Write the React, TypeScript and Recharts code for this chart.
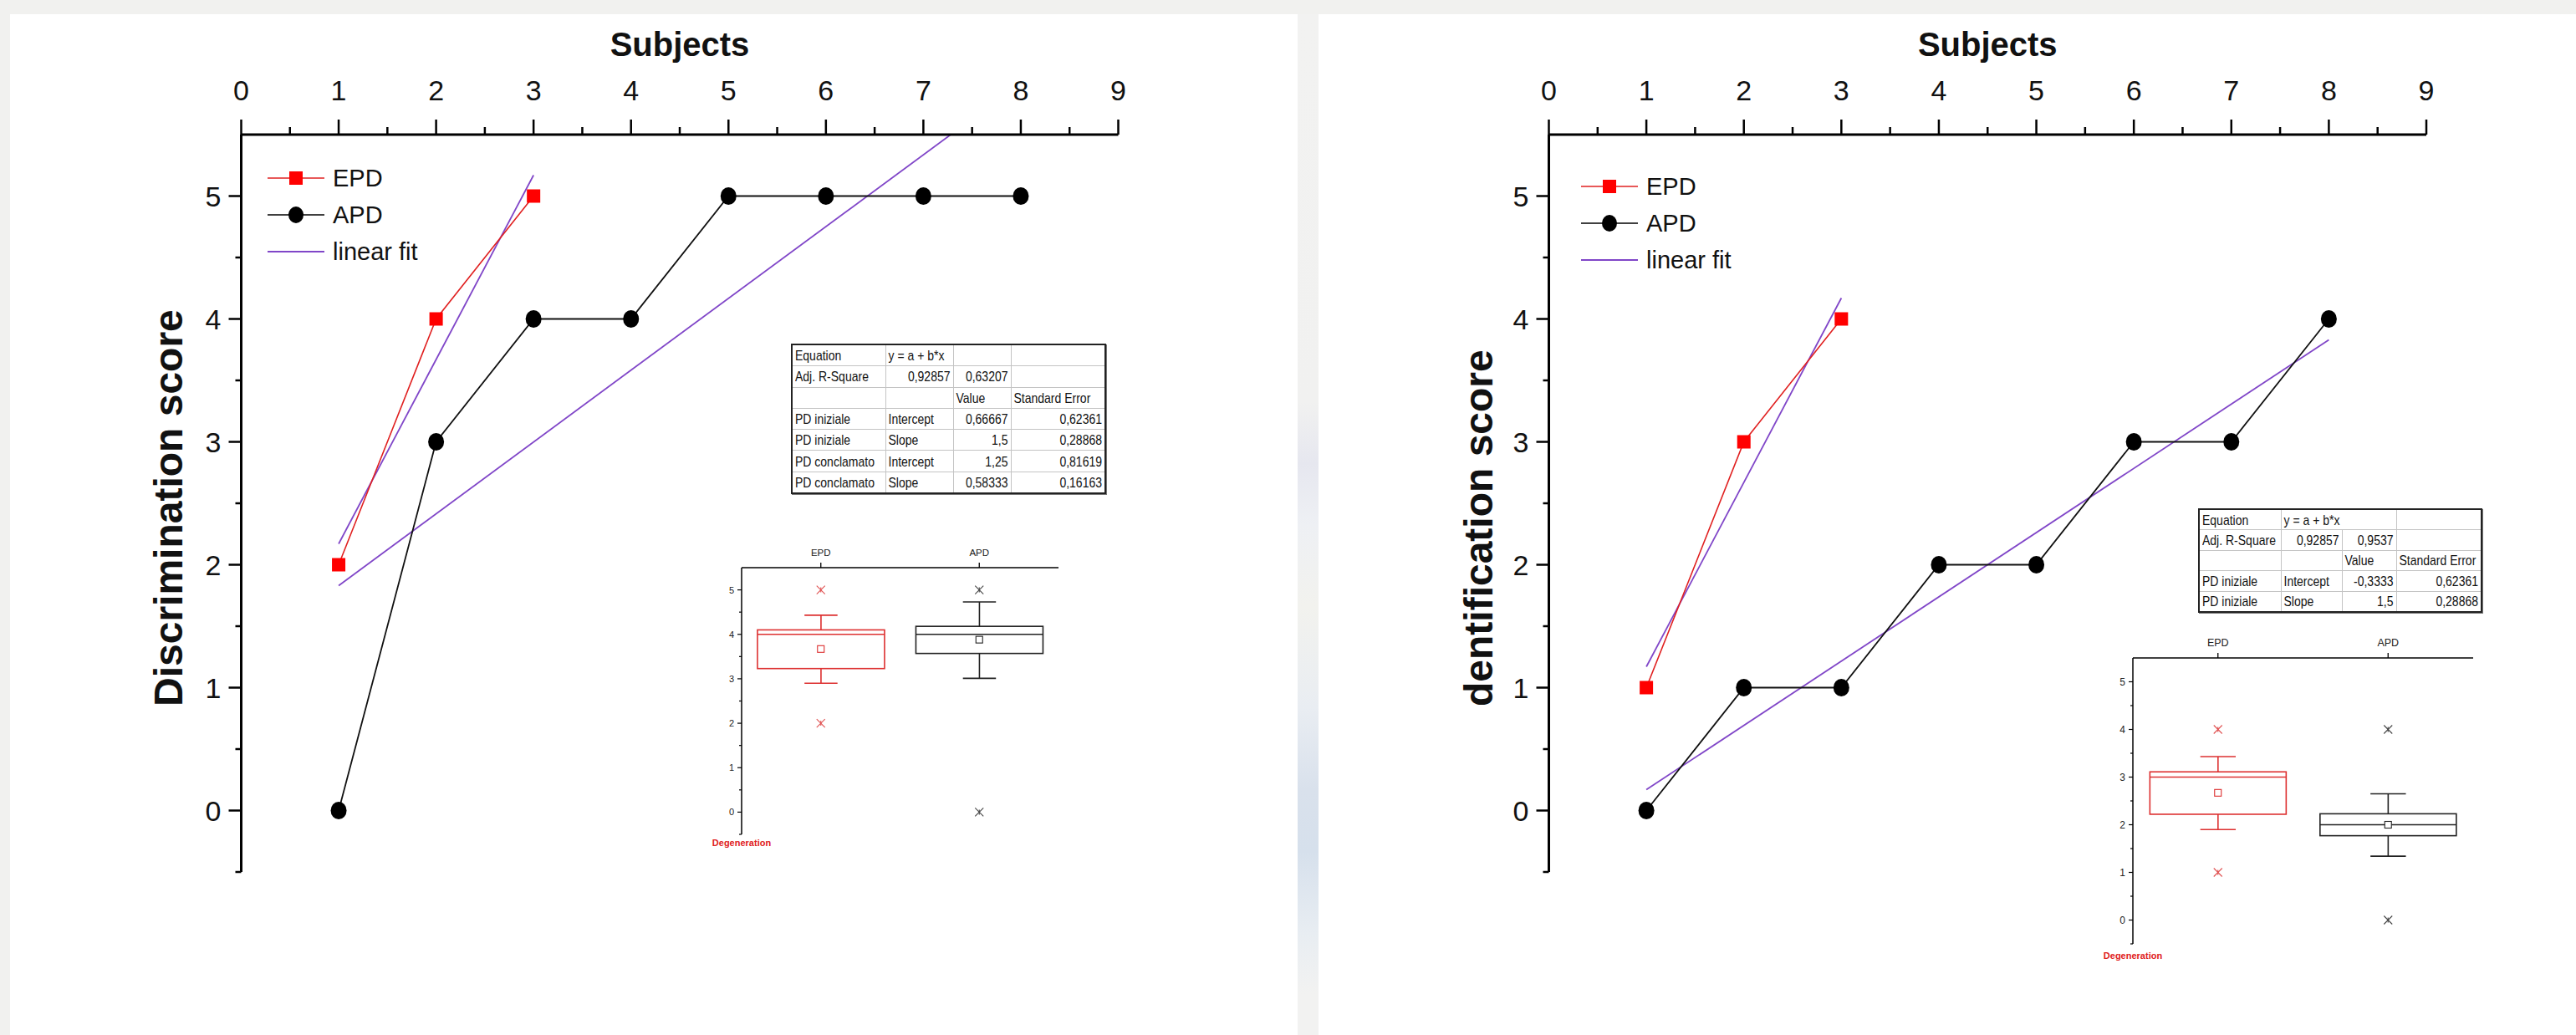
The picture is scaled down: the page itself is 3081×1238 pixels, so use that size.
import React from "react";
import { ComposedChart, Line, Bar, Scatter, XAxis, YAxis, Legend } from "recharts";

const FONT = "'Liberation Sans', Arial, sans-serif";
const PURPLE = "#8046c8";
const RED = "#ff0000";
const BOX_RED = "#dd3030";
const INK = "#111";

// ---- main plots: Subjects vs score ----
const subjectTicks = [0, 0.5, 1, 1.5, 2, 2.5, 3, 3.5, 4, 4.5, 5, 5.5, 6, 6.5, 7, 7.5, 8, 8.5, 9];
const scoreTicks = [-0.5, 0, 0.5, 1, 1.5, 2, 2.5, 3, 3.5, 4, 4.5, 5];

const epdSubjects = [1, 2, 3];
const apdSubjects = [1, 2, 3, 4, 5, 6, 7, 8];
const epdFitSubjects = [1, 3];
const apdFitSubjects = [1, 8];

const discriminationEPD = [2, 4, 5];
const discriminationAPD = [0, 3, 4, 4, 5, 5, 5, 5];
const discriminationFitEPD = [2.17, 5.17];
const discriminationFitAPD = [1.83, 5.92];

const identificationEPD = [1, 3, 4];
const identificationAPD = [0, 1, 1, 2, 2, 3, 3, 4];
const identificationFitEPD = [1.17, 4.17];
const identificationFitAPD = [0.17, 3.83];

const legendNames = ["EPD", "APD", "linear fit"];

// ---- inset box plots ----
const boxGroups = ["EPD", "APD"];
const boxTicks = [-0.5, 0, 0.5, 1, 1.5, 2, 2.5, 3, 3.5, 4, 4.5, 5];

const discBoxLow = [2.9, 3.01];
const discBoxQ1 = [3.23, 3.57];
const discBoxMedian = [4, 4];
const discBoxQ3 = [4.1, 4.18];
const discBoxHigh = [4.43, 4.73];
const discBoxMean = [3.67, 3.88];
const discBoxMin = [2, 0];
const discBoxMax = [5, 5];

const idBoxLow = [1.9, 1.34];
const idBoxQ1 = [2.22, 1.77];
const idBoxMedian = [3, 2];
const idBoxQ3 = [3.11, 2.23];
const idBoxHigh = [3.43, 2.65];
const idBoxMean = [2.67, 2];
const idBoxMin = [1, 0];
const idBoxMax = [4, 4];

// ---- fit tables ----
const discTableRows = [
  ["Equation", "y = a + b*x", "", ""],
  ["Adj. R-Square", "0,92857", "0,63207", ""],
  ["", "", "Value", "Standard Error"],
  ["PD iniziale", "Intercept", "0,66667", "0,62361"],
  ["PD iniziale", "Slope", "1,5", "0,28868"],
  ["PD conclamato", "Intercept", "1,25", "0,81619"],
  ["PD conclamato", "Slope", "0,58333", "0,16163"],
];
const idTableRows = [
  ["Equation", "y = a + b*x", null, ""],
  ["Adj. R-Square", "0,92857", "0,9537", ""],
  ["", "", "Value", "Standard Error"],
  ["PD iniziale", "Intercept", "-0,3333", "0,62361"],
  ["PD iniziale", "Slope", "1,5", "0,28868"],
];

const toPoints = (xs: number[], ys: number[]) => xs.map((x, i) => ({ x, y: ys[i] }));

const boxRows = (
  low: number[], q1: number[], med: number[], q3: number[], high: number[],
  mean: number[], min: number[], max: number[]
) =>
  boxGroups.map((group, i) => ({
    group,
    range: [low[i], high[i]],
    q1: q1[i],
    median: med[i],
    q3: q3[i],
    mean: mean[i],
    min: min[i],
    max: max[i],
  }));

const boxColor = (group: string) => (group === "EPD" ? BOX_RED : "#222");

// ---- main plot pieces ----
const TopTick = (props: any) => {
  const { x, y, payload } = props;
  const major = Number.isInteger(payload.value);
  return (
    <g>
      <line x1={x} x2={x} y1={y} y2={y - (major ? 18 : 9)} stroke="#000" strokeWidth={2.5} />
      {major && (
        <text x={x} y={y - 41} textAnchor="middle" fontSize={34} fontFamily={FONT} fill={INK}>
          {payload.value}
        </text>
      )}
    </g>
  );
};

const LeftTick = (props: any) => {
  const { x, y, payload } = props;
  const major = Number.isInteger(payload.value);
  return (
    <g>
      <line x1={x} x2={x - (major ? 15 : 7)} y1={y} y2={y} stroke="#000" strokeWidth={2.5} />
      {major && (
        <text x={x - 24} y={y + 12} textAnchor="end" fontSize={34} fontFamily={FONT} fill={INK}>
          {payload.value}
        </text>
      )}
    </g>
  );
};

const SquareDot = (props: any) => {
  const { cx, cy } = props;
  if (cx == null || cy == null) return null;
  return <rect x={cx - 8} y={cy - 8} width={16} height={16} fill={RED} />;
};

const RoundDot = (props: any) => {
  const { cx, cy } = props;
  if (cx == null || cy == null) return null;
  return <ellipse cx={cx} cy={cy} rx={9.5} ry={10.5} fill="#000" />;
};

const MainLegend = () => (
  <div style={{ fontFamily: FONT, fontSize: 29, color: INK }}>
    {legendNames.map((name, i) => (
      <div key={name} style={{ display: "flex", alignItems: "center", height: 44 }}>
        <svg width={78} height={44}>
          <line
            x1={0}
            x2={68}
            y1={22}
            y2={22}
            stroke={i === 0 ? "#e02020" : i === 1 ? "#000" : PURPLE}
            strokeWidth={i === 2 ? 2 : 1.6}
          />
          {i === 0 && <rect x={26} y={14} width={16} height={16} fill={RED} />}
          {i === 1 && <ellipse cx={34} cy={22} rx={9} ry={10} fill="#000" />}
        </svg>
        <span style={{ lineHeight: "44px" }}>{name}</span>
      </div>
    ))}
  </div>
);

function MainPanel(props: {
  left: number;
  width: number;
  plotLeft: number;
  plotRight: number;
  yLabel: string;
  yLabelDx: number;
  legendX: number;
  legendY: number;
  epd: number[];
  apd: number[];
  fitEpd: number[];
  fitApd: number[];
}) {
  const { left, width, plotLeft, plotRight, yLabel, yLabelDx, legendX, legendY } = props;
  // axes are 1px thick, so the margins stop one pixel short of the plot box
  return (
    <div style={{ position: "absolute", left, top: 0 }}>
      <ComposedChart
        width={width}
        height={1238}
        margin={{ top: 160, left: plotLeft - left - 1, right: left + width - plotRight, bottom: 195 }}
      >
        <XAxis
          type="number"
          dataKey="x"
          orientation="top"
          domain={[0, 9]}
          ticks={subjectTicks}
          interval={0}
          height={1}
          tickSize={0}
          tickMargin={0}
          tickLine={false}
          allowDataOverflow
          axisLine={{ stroke: "#000", strokeWidth: 3 }}
          tick={(p: any) => <TopTick {...p} />}
          label={(p: any) => {
            const vb = p.viewBox;
            return (
              <text
                x={vb.x + vb.width / 2}
                y={vb.y + vb.height - 94}
                textAnchor="middle"
                fontSize={40}
                fontWeight="bold"
                fontFamily={FONT}
                fill={INK}
              >
                Subjects
              </text>
            );
          }}
        />
        <YAxis
          type="number"
          domain={[-0.5, 5.5]}
          ticks={scoreTicks}
          interval={0}
          width={1}
          tickSize={0}
          tickMargin={0}
          tickLine={false}
          allowDataOverflow
          axisLine={{ stroke: "#000", strokeWidth: 3 }}
          tick={(p: any) => <LeftTick {...p} />}
          label={(p: any) => {
            const vb = p.viewBox;
            const lx = vb.x + vb.width - yLabelDx;
            return (
              <text
                x={lx}
                y={845}
                transform={`rotate(-90 ${lx} 845)`}
                textAnchor="start"
                fontSize={48}
                fontWeight="bold"
                fontFamily={FONT}
                fill={INK}
              >
                {yLabel}
              </text>
            );
          }}
        />
        <Legend
          layout="vertical"
          align="center"
          verticalAlign="middle"
          content={() => <MainLegend />}
          wrapperStyle={{ left: legendX - left, top: legendY - 22, width: 260, height: 132 }}
        />
        <Line
          data={toPoints(epdFitSubjects, props.fitEpd)}
          dataKey="y"
          stroke={PURPLE}
          strokeWidth={1.8}
          dot={false}
          isAnimationActive={false}
        />
        <Line
          data={toPoints(apdFitSubjects, props.fitApd)}
          dataKey="y"
          stroke={PURPLE}
          strokeWidth={1.8}
          dot={false}
          isAnimationActive={false}
        />
        <Line
          data={toPoints(epdSubjects, props.epd)}
          dataKey="y"
          stroke="#e02020"
          strokeWidth={1.6}
          dot={(p: any) => <SquareDot key={`s${p.index}`} {...p} />}
          isAnimationActive={false}
        />
        <Line
          data={toPoints(apdSubjects, props.apd)}
          dataKey="y"
          stroke="#111"
          strokeWidth={1.8}
          dot={(p: any) => <RoundDot key={`c${p.index}`} {...p} />}
          isAnimationActive={false}
        />
      </ComposedChart>
    </div>
  );
}

// ---- box plot pieces ----
const BoxShape = (props: any) => {
  const { x, y, width, height, payload } = props;
  if (!payload || width == null) return null;
  const [lo, hi] = payload.range;
  const top = Math.min(y, y + height);
  const px = Math.abs(height) / (hi - lo);
  const yOf = (v: number) => top + (hi - v) * px;
  const cx = x + width / 2;
  const cap = width * 0.13;
  const color = boxColor(payload.group);
  return (
    <g stroke={color} strokeWidth={1.6} fill="none">
      <line x1={cx} x2={cx} y1={yOf(hi)} y2={yOf(payload.q3)} />
      <line x1={cx - cap} x2={cx + cap} y1={yOf(hi)} y2={yOf(hi)} />
      <line x1={cx} x2={cx} y1={yOf(payload.q1)} y2={yOf(lo)} />
      <line x1={cx - cap} x2={cx + cap} y1={yOf(lo)} y2={yOf(lo)} />
      <rect x={x} y={yOf(payload.q3)} width={width} height={yOf(payload.q1) - yOf(payload.q3)} />
      <line x1={x} x2={x + width} y1={yOf(payload.median)} y2={yOf(payload.median)} />
    </g>
  );
};

const MeanShape = (props: any) => {
  const { cx, cy, payload } = props;
  return (
    <rect x={cx - 4} y={cy - 4} width={8} height={8} fill="#fff" stroke={boxColor(payload.group)} strokeWidth={1.1} />
  );
};

const CrossShape = (props: any) => {
  const { cx, cy, payload } = props;
  const c = payload.group === "EPD" ? "#e05050" : "#444";
  return (
    <g stroke={c} strokeWidth={1.1}>
      <line x1={cx - 5} x2={cx + 5} y1={cy - 5} y2={cy + 5} />
      <line x1={cx - 5} x2={cx + 5} y1={cy + 5} y2={cy - 5} />
      <line x1={cx} x2={cx} y1={cy - 3} y2={cy + 3} />
    </g>
  );
};

function BoxPanel(props: {
  left: number;
  top: number;
  width: number;
  height: number;
  plot: [number, number, number, number];
  rows: any[];
  yLabel: string;
  labelFont: number;
  labelDx: number;
  labelCy: number;
  tickFont: number;
  degDy: number;
}) {
  const { left, top, width, height, plot, rows, yLabel, labelFont, labelDx, labelCy, tickFont, degDy } = props;
  const [pl, pt, pr, pb] = plot;
  return (
    <div style={{ position: "absolute", left, top }}>
      <ComposedChart
        width={width}
        height={height}
        data={rows}
        barCategoryGap="10%"
        margin={{ top: pt - top - 1, left: pl - left - 1, right: left + width - pr, bottom: top + height - pb }}
      >
        <XAxis
          type="category"
          dataKey="group"
          orientation="top"
          height={1}
          tickSize={0}
          tickMargin={0}
          tickLine={false}
          interval={0}
          axisLine={{ stroke: "#000", strokeWidth: 1.5 }}
          tick={(p: any) => (
            <g>
              <line x1={p.x} x2={p.x} y1={p.y} y2={p.y - 6} stroke="#000" strokeWidth={1.3} />
              <text x={p.x} y={p.y - 14} textAnchor="middle" fontSize={tickFont + 0.5} fontFamily={FONT} fill="#222">
                {p.payload.value}
              </text>
            </g>
          )}
        />
        <YAxis
          type="number"
          domain={[-0.5, 5.5]}
          ticks={boxTicks}
          interval={0}
          width={1}
          tickSize={0}
          tickMargin={0}
          tickLine={false}
          axisLine={{ stroke: "#000", strokeWidth: 1.5 }}
          tick={(p: any) => {
            const major = Number.isInteger(p.payload.value);
            return (
              <g>
                <line x1={p.x} x2={p.x - (major ? 5 : 3)} y1={p.y} y2={p.y} stroke="#000" strokeWidth={1.2} />
                {major && (
                  <text x={p.x - 9} y={p.y + tickFont * 0.36} textAnchor="end" fontSize={tickFont} fontFamily={FONT} fill="#222">
                    {p.payload.value}
                  </text>
                )}
              </g>
            );
          }}
          label={(p: any) => {
            const vb = p.viewBox;
            const ax = vb.x + vb.width;
            const lx = ax - labelDx;
            return (
              <g>
                <text
                  x={lx}
                  y={labelCy}
                  transform={`rotate(-90 ${lx} ${labelCy})`}
                  textAnchor="middle"
                  fontSize={labelFont}
                  fontWeight="bold"
                  fontFamily={FONT}
                  fill="#111"
                >
                  {yLabel}
                </text>
                <text
                  x={ax}
                  y={vb.y + vb.height + degDy}
                  textAnchor="middle"
                  fontSize={11}
                  fontWeight="bold"
                  fontFamily={FONT}
                  fill="#e02020"
                >
                  Degeneration
                </text>
              </g>
            );
          }}
        />
        <Bar dataKey="range" shape={(p: any) => <BoxShape {...p} />} isAnimationActive={false} />
        <Scatter dataKey="mean" shape={(p: any) => <MeanShape {...p} />} isAnimationActive={false} />
        <Scatter dataKey="min" shape={(p: any) => <CrossShape {...p} />} isAnimationActive={false} />
        <Scatter dataKey="max" shape={(p: any) => <CrossShape {...p} />} isAnimationActive={false} />
      </ComposedChart>
    </div>
  );
}

// ---- fit table ----
const isNumeric = (s: string) => /^-?\d/.test(s);

function FitTable(props: { left: number; top: number; cols: number[]; rowHeight: number; rows: (string | null)[][] }) {
  const { left, top, cols, rowHeight, rows } = props;
  return (
    <table
      style={{
        position: "absolute",
        left,
        top,
        borderCollapse: "collapse",
        tableLayout: "fixed",
        width: cols.reduce((a, b) => a + b, 0),
        border: "2px solid #222",
        boxShadow: "1px 1px 0 #777",
        fontFamily: FONT,
        fontSize: 14,
        color: "#111",
        background: "#fff",
      }}
    >
      <colgroup>
        {cols.map((w, i) => (
          <col key={i} style={{ width: w }} />
        ))}
      </colgroup>
      <tbody>
        {rows.map((row, r) => (
          <tr key={r} style={{ height: rowHeight }}>
            {row.map((cell, c) => {
              if (cell === null) return null;
              const span = row[c + 1] === null ? 2 : 1;
              return (
                <td
                  key={c}
                  colSpan={span}
                  style={{
                    border: "1px solid #c4c4c4",
                    padding: "0 3px",
                    height: rowHeight - 1,
                    whiteSpace: "nowrap",
                    overflow: "hidden",
                    textAlign: isNumeric(cell) ? "right" : "left",
                    lineHeight: 1,
                  }}
                >
                  <span style={{ display: "inline-block", transform: "scaleY(1.2)" }}>{cell}</span>
                </td>
              );
            })}
          </tr>
        ))}
      </tbody>
    </table>
  );
}

export default function App() {
  return (
    <div
      style={{
        position: "absolute",
        left: 0,
        top: 0,
        width: 3081,
        height: 1238,
        overflow: "hidden",
        background: "#f1f1ef",
      }}
    >
      <div style={{ position: "absolute", left: 12, top: 17, width: 1540, height: 1221, background: "#fff" }} />
      <div
        style={{
          position: "absolute",
          left: 1552,
          top: 17,
          width: 25,
          height: 1221,
          background:
            "linear-gradient(180deg, #f2f2f1 0%, #f1f1f0 38%, #e6e7ef 44%, #eef0f4 50%, #f2f2ee 58%, #e9edf2 68%, #d9e1ec 76%, #d6e0ec 82%, #e8edf2 90%, #f2f2f1 96%)",
        }}
      />
      <div style={{ position: "absolute", left: 1577, top: 17, width: 1504, height: 1221, background: "#fff" }} />

      <MainPanel
        left={0}
        width={1550}
        plotLeft={288.5}
        plotRight={1337.5}
        yLabel="Discrimination score"
        yLabelDx={70.5}
        legendX={320}
        legendY={213}
        epd={discriminationEPD}
        apd={discriminationAPD}
        fitEpd={discriminationFitEPD}
        fitApd={discriminationFitAPD}
      />
      <FitTable left={946} top={411} cols={[112, 81, 69, 113]} rowHeight={25.3} rows={discTableRows} />
      <BoxPanel
        left={800}
        top={620}
        width={500}
        height={420}
        plot={[887, 679, 1266, 998]}
        rows={boxRows(discBoxLow, discBoxQ1, discBoxMedian, discBoxQ3, discBoxHigh, discBoxMean, discBoxMin, discBoxMax)}
        yLabel="Discrimination score"
        labelFont={17}
        labelDx={29}
        labelCy={850}
        tickFont={11}
        degDy={14}
      />

      <MainPanel
        left={1560}
        width={1521}
        plotLeft={1852.5}
        plotRight={2902}
        yLabel="dentification score"
        yLabelDx={67.5}
        legendX={1891}
        legendY={223}
        epd={identificationEPD}
        apd={identificationAPD}
        fitEpd={identificationFitEPD}
        fitApd={identificationFitAPD}
      />
      <FitTable left={2629} top={608} cols={[98, 73, 65, 102]} rowHeight={24.4} rows={idTableRows} />
      <BoxPanel
        left={2460}
        top={730}
        width={560}
        height={440}
        plot={[2551, 787, 2958, 1129]}
        rows={boxRows(idBoxLow, idBoxQ1, idBoxMedian, idBoxQ3, idBoxHigh, idBoxMean, idBoxMin, idBoxMax)}
        yLabel="Identification score"
        labelFont={18.5}
        labelDx={34.5}
        labelCy={962}
        tickFont={12}
        degDy={18}
      />
    </div>
  );
}
